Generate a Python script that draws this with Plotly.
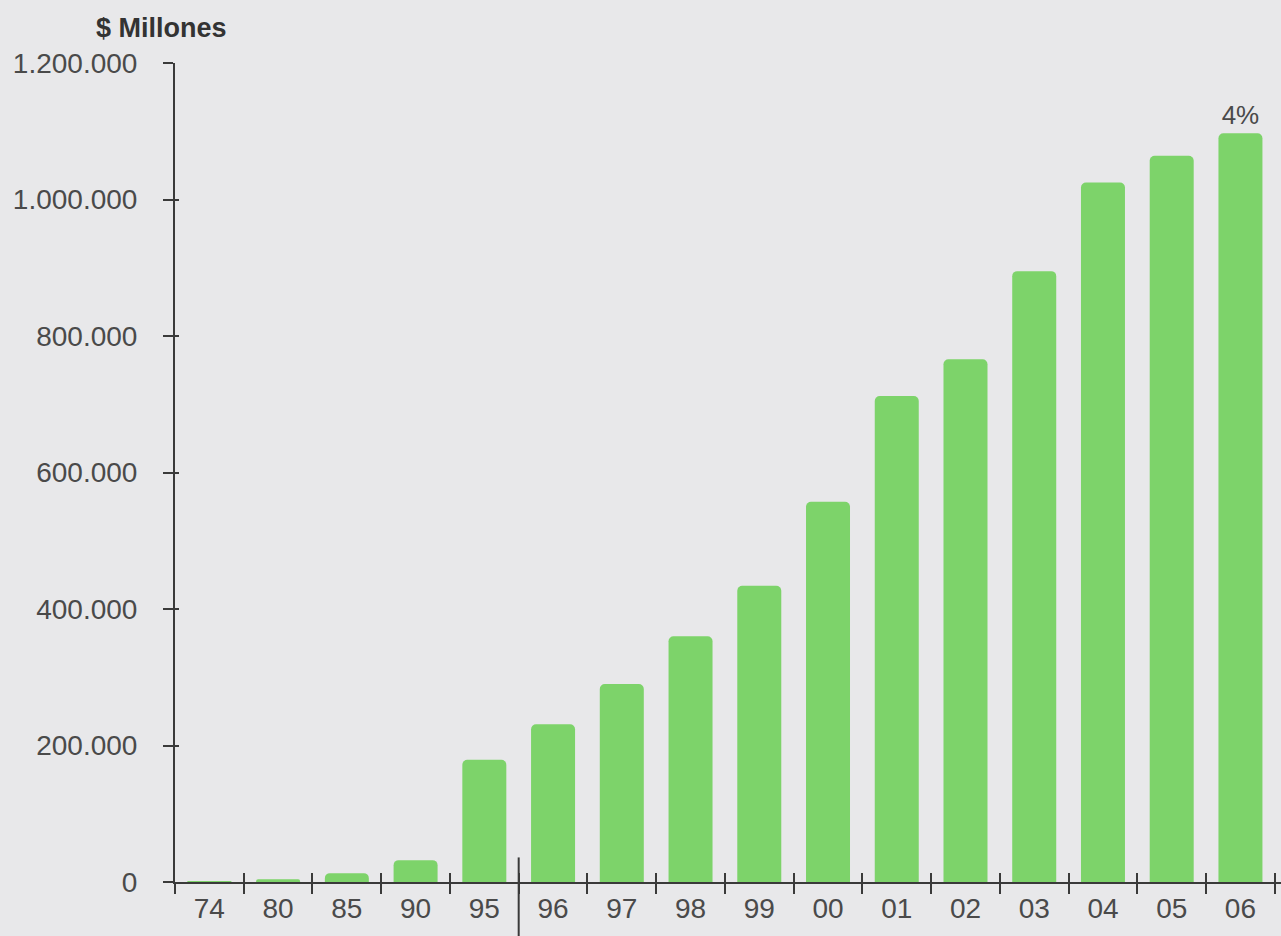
"""
Crecimiento acumulado en $ Millones, 1974-2006
"""

import plotly.graph_objects as go

BG_COLOR   = "#e8e8ea"
BAR_COLOR  = "#7dd36a"
AXIS_COLOR = "#3a3a3a"
TEXT_COLOR = "#4a4a4a"
FONT       = "Liberation Sans, Arial, sans-serif"

years  = ["74", "80", "85", "90", "95", "96", "97", "98",
          "99", "00", "01", "02", "03", "04", "05", "06"]
values = [600, 4000, 13000, 32000, 179000, 231000, 290000, 360000,
          434000, 557000, 712000, 766000, 895000, 1025000, 1064000, 1097000]
labels = [""] * 15 + ["4%"]
y_ticks = [0, 200000, 400000, 600000, 800000, 1000000, 1200000]

X_RANGE = [-0.5, 15.59]
Y_RANGE = [0, 1200000]

fig = go.Figure()

fig.add_trace(
    go.Bar(
        x=years,
        y=values,
        marker=dict(color=BAR_COLOR, line=dict(width=0)),
        text=labels,
        textposition="outside",
        textfont=dict(size=26, color=TEXT_COLOR, family=FONT),
        cliponaxis=False,
        hovertemplate="%{x}: %{y:,d}<extra></extra>",
    )
)

# traza invisible para que los ejes superpuestos dibujen la otra mitad de las marcas
fig.add_trace(
    go.Scatter(
        x=years, y=values, mode="none",
        xaxis="x2", yaxis="y2", hoverinfo="skip",
    )
)

axis_common = dict(
    showgrid=False,
    zeroline=False,
    tickwidth=2,
    tickcolor=AXIS_COLOR,
)

fig.update_layout(
    width=1281,
    height=936,
    paper_bgcolor=BG_COLOR,
    plot_bgcolor=BG_COLOR,
    font=dict(family=FONT, color=TEXT_COLOR, size=28),
    margin=dict(l=175, r=0, t=63, b=54),
    separators=",.",
    bargap=0.36,
    barcornerradius=5,
    showlegend=False,
    xaxis=dict(
        **axis_common,
        type="category",
        range=X_RANGE,
        showline=True,
        linecolor=AXIS_COLOR,
        linewidth=2,
        ticks="outside",
        tickson="boundaries",
        ticklen=10,
        tickfont=dict(size=28, color=TEXT_COLOR),
    ),
    yaxis=dict(
        **axis_common,
        range=Y_RANGE,
        tickvals=y_ticks,
        tickformat=",d",
        showline=True,
        linecolor=AXIS_COLOR,
        linewidth=2,
        ticks="outside",
        ticklen=10,
        ticklabelstandoff=20,
        tickfont=dict(size=28, color=TEXT_COLOR),
    ),
    xaxis2=dict(
        **axis_common,
        type="category",
        overlaying="x",
        side="bottom",
        range=X_RANGE,
        showline=False,
        ticks="inside",
        tickson="boundaries",
        ticklen=9,
        showticklabels=False,
    ),
    yaxis2=dict(
        **axis_common,
        overlaying="y",
        side="left",
        range=Y_RANGE,
        tickvals=y_ticks,
        showline=False,
        ticks="inside",
        ticklen=4,
        showticklabels=False,
    ),
    annotations=[
        dict(
            text="<b>$ Millones</b>",
            xref="paper", yref="paper",
            x=-0.073, y=1.043,
            xanchor="left", yanchor="middle",
            showarrow=False,
            font=dict(size=27, color="#333333", family=FONT),
        )
    ],
    shapes=[
        # separador entre 95 y 96
        dict(
            type="line",
            xref="x", yref="paper",
            x0=4.5, x1=4.5, y0=-0.07, y1=0.03,
            line=dict(color=AXIS_COLOR, width=2),
        )
    ],
)

fig.write_html(
    "out.html",
    config={"displayModeBar": False},
    post_script="document.body.style.margin='0';",
)
